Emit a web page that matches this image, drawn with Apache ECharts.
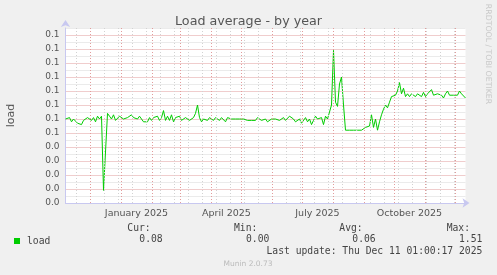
<!DOCTYPE html>
<html>
<head>
<meta charset="utf-8">
<script src="https://cdn.jsdelivr.net/npm/echarts@6/dist/echarts.min.js"></script>
<style>
html, body { margin: 0; padding: 0; background: #f0f0f0; }
#main { width: 497px; height: 275px; }
</style>
</head>
<body>
<div id="main"></div>
<script>
// time span of the year graph (400 days, one sample every 2 days)
var DAY = 86400000;
var startTime = Date.UTC(2024, 10, 6, 1, 0, 17);
var endTime = Date.UTC(2025, 11, 11, 1, 0, 17);
var stepDays = 2;

// load average
var loadValues = [
	0.060, 0.059, 0.061, 0.058, 0.060, 0.059, 0.057, 0.058, 0.056, 0.059,
	0.060, 0.061, 0.062, 0.059, 0.061, 0.058, 0.062, 0.060, 0.062, 0.009,
	0.009, 0.064, 0.062, 0.060, 0.063, 0.059, 0.058, 0.062, 0.061, 0.060,
	0.060, 0.061, 0.062, 0.063, 0.061, 0.062, 0.060, 0.062, 0.061, 0.058,
	0.059, 0.058, 0.061, 0.059, 0.061, 0.060, 0.062, 0.059, 0.061, 0.066,
	0.059, 0.062, 0.059, 0.063, 0.058, 0.061, 0.060, 0.062, 0.059, 0.058,
	0.061, 0.060, 0.059, 0.060, 0.061, 0.064, 0.070, 0.061, 0.058, 0.060,
	0.061, 0.059, 0.061, 0.060, 0.059, 0.061, 0.062, 0.059, 0.061, 0.060,
	0.058, 0.061, 0.062, 0.060, 0.059, 0.060, 0.061, 0.060, 0.059, 0.060,
	0.060, 0.059, 0.060, 0.059, 0.060, 0.059, 0.061, 0.062, 0.059, 0.058,
	0.060, 0.058, 0.059, 0.060, 0.059, 0.060, 0.061, 0.059, 0.060, 0.061,
	0.059, 0.060, 0.062, 0.061, 0.060, 0.058, 0.059, 0.060, 0.057, 0.058,
	0.061, 0.058, 0.060, 0.056, 0.059, 0.062, 0.060, 0.059, 0.061, 0.056,
	0.062, 0.060, 0.061, 0.070, 0.109, 0.072, 0.069, 0.085, 0.090, 0.070,
	0.052, 0.053, 0.052, 0.053, 0.052, 0.053, 0.052, 0.053, 0.052, 0.053,
	0.054, 0.054, 0.055, 0.063, 0.054, 0.060, 0.052, 0.058, 0.063, 0.067,
	0.070, 0.068, 0.072, 0.076, 0.076, 0.077, 0.080, 0.086, 0.078, 0.082,
	0.076, 0.078, 0.076, 0.078, 0.077, 0.076, 0.078, 0.077, 0.076, 0.079,
	0.076, 0.078, 0.077, 0.081, 0.077, 0.076, 0.078, 0.079, 0.077, 0.075,
	0.078, 0.080, 0.077, 0.078, 0.077, 0.078, 0.077, 0.080, 0.078, 0.077,
	0.075
];

var xTickDates = ['2025-01-16', '2025-04-16', '2025-07-16', '2025-10-16'];
var xTickLabels = ['January 2025', 'April 2025', 'July 2025', 'October 2025'];
var yTickLabels = ['0.0', '0.0', '0.0', '0.0', '0.0', '0.1', '0.1', '0.1', '0.1', '0.1', '0.1', '0.1', '0.1'];
var yStep = 0.01;
var yMax = 0.125;

var statNames = ['Cur:', 'Min:', 'Avg:', 'Max:'];
var statValues = ['0.08', '0.00', '0.06', '1.51'];
var lastUpdate = 'Last update: Thu Dec 11 01:00:17 2025';

var chart = echarts.init(document.getElementById('main'));

var loadData = loadValues.map(function (v, i) {
	return [startTime + i * stepDays * DAY, v];
});

var xTickValues = xTickDates.map(function (d) { return Date.parse(d); });

// vertical grid: month starts (red), every second sunday (grey)
var redColor = '#e29c9c';
var greyColor = '#d2d2d2';
var red = { color: redColor, type: [1, 2], width: 1 };
var grey = { color: greyColor, type: [1, 2], width: 1 };
var gridLines = [];
for (var t = Date.UTC(2024, 10, 17); t < endTime; t += 14 * DAY) {
	gridLines.push({ xAxis: t, lineStyle: grey });
}
for (var m = 11; m <= 23; m++) {
	gridLines.push({ xAxis: Date.UTC(2024, m, 1), lineStyle: red });
}

var mono = 'DejaVu Sans Mono';
var sans = 'DejaVu Sans';
var statCols = [150.7, 257.3, 362.7, 470];
var valueCols = [162.7, 269.3, 375.7, 482.3];

var graphics = [];
statNames.forEach(function (s, i) {
	graphics.push({ type: 'text', x: statCols[i], y: 228.5, style: { text: s, font: '9.7px ' + mono, fill: '#444', align: 'right', verticalAlign: 'middle' } });
	graphics.push({ type: 'text', x: valueCols[i], y: 239.5, style: { text: statValues[i], font: '9.7px ' + mono, fill: '#444', align: 'right', verticalAlign: 'middle' } });
});
graphics.push({ type: 'text', x: 482.3, y: 251, style: { text: lastUpdate, font: '9.7px ' + mono, fill: '#444', align: 'right', verticalAlign: 'middle' } });
graphics.push({ type: 'text', x: 248, y: 264, style: { text: 'Munin 2.0.73', font: '7.5px ' + sans, fill: '#bbb', align: 'center', verticalAlign: 'middle' } });
graphics.push({ type: 'text', x: 488.5, y: 54, rotation: -Math.PI / 2, style: { text: 'RRDTOOL / TOBI OETIKER', font: '7.8px ' + sans, fill: '#c8c8c8', align: 'center', verticalAlign: 'middle' } });

var option = {
	backgroundColor: '#f0f0f0',
	animation: false,
	title: {
		text: 'Load average - by year',
		left: 'center',
		top: 10,
		textStyle: { fontFamily: sans, fontSize: 12.7, fontWeight: 'normal', color: '#555' }
	},
	legend: {
		data: ['load'],
		left: 14,
		top: 236,
		padding: 0,
		icon: 'rect',
		itemWidth: 6,
		itemHeight: 6,
		itemGap: 0,
		textStyle: { fontFamily: mono, fontSize: 9.7, color: '#444', padding: [0, 0, 0, 2] }
	},
	grid: {
		left: 65.5,
		right: 31.5,
		top: 28,
		bottom: 72,
		outerBoundsMode: 'none',
		containLabel: false,
		show: true,
		backgroundColor: '#ffffff',
		borderWidth: 0
	},
	xAxis: {
		type: 'value',
		min: startTime,
		max: endTime,
		z: 4,
		splitLine: { show: false },
		axisTick: { show: false },
		axisLine: {
			show: true,
			lineStyle: { color: '#c8c8f0', width: 1 },
			symbol: ['none', 'arrow'],
			symbolSize: [7, 7],
			symbolOffset: [0, 4]
		},
		axisLabel: {
			customValues: xTickValues,
			margin: 6,
			fontFamily: sans,
			fontSize: 9.5,
			color: '#555',
			formatter: function (v) {
				var i = xTickValues.indexOf(v);
				return i >= 0 ? xTickLabels[i] : '';
			}
		}
	},
	yAxis: [{
		// major steps: labels + red grid
		type: 'value',
		min: 0,
		max: yMax,
		interval: yStep,
		z: 2,
		name: 'load',
		nameLocation: 'middle',
		nameGap: 49,
		nameTextStyle: { fontFamily: sans, fontSize: 11, color: '#555' },
		axisTick: { show: false },
		axisLine: {
			show: true,
			lineStyle: { color: '#c8c8f0', width: 1 },
			symbol: ['none', 'arrow'],
			symbolSize: [7, 7],
			symbolOffset: [0, 8]
		},
		axisLabel: {
			margin: 6,
			fontFamily: sans,
			fontSize: 9,
			color: '#555',
			showMaxLabel: false,
			formatter: function (v, idx) {
				return yTickLabels[idx] || '';
			}
		},
		splitLine: {
			show: true,
			showMaxLine: false,
			lineStyle: { color: '#f0cdcd', type: 'solid', width: 1 }
		}
	}, {
		// half steps: grey grid only, skipping the major steps
		type: 'value',
		position: 'left',
		min: 0,
		max: yMax,
		interval: yStep / 2,
		z: 1,
		axisLine: { show: false },
		axisTick: { show: false },
		axisLabel: { show: false },
		splitLine: {
			show: true,
			lineStyle: { color: ['rgba(0,0,0,0)', '#ebebeb'], type: 'solid', width: 1 }
		}
	}],
	series: [{
		name: 'grid',
		type: 'line',
		data: [],
		z: 1,
		silent: true,
		markLine: {
			silent: true,
			symbol: ['none', 'none'],
			label: { show: false },
			animation: false,
			data: gridLines
		}
	}, {
		name: 'load',
		type: 'line',
		data: loadData,
		z: 3,
		showSymbol: false,
		color: '#00cc00',
		lineStyle: { color: '#00cc00', width: 1 }
	}],
	graphic: graphics
};

chart.setOption(option);
</script>
</body>
</html>
